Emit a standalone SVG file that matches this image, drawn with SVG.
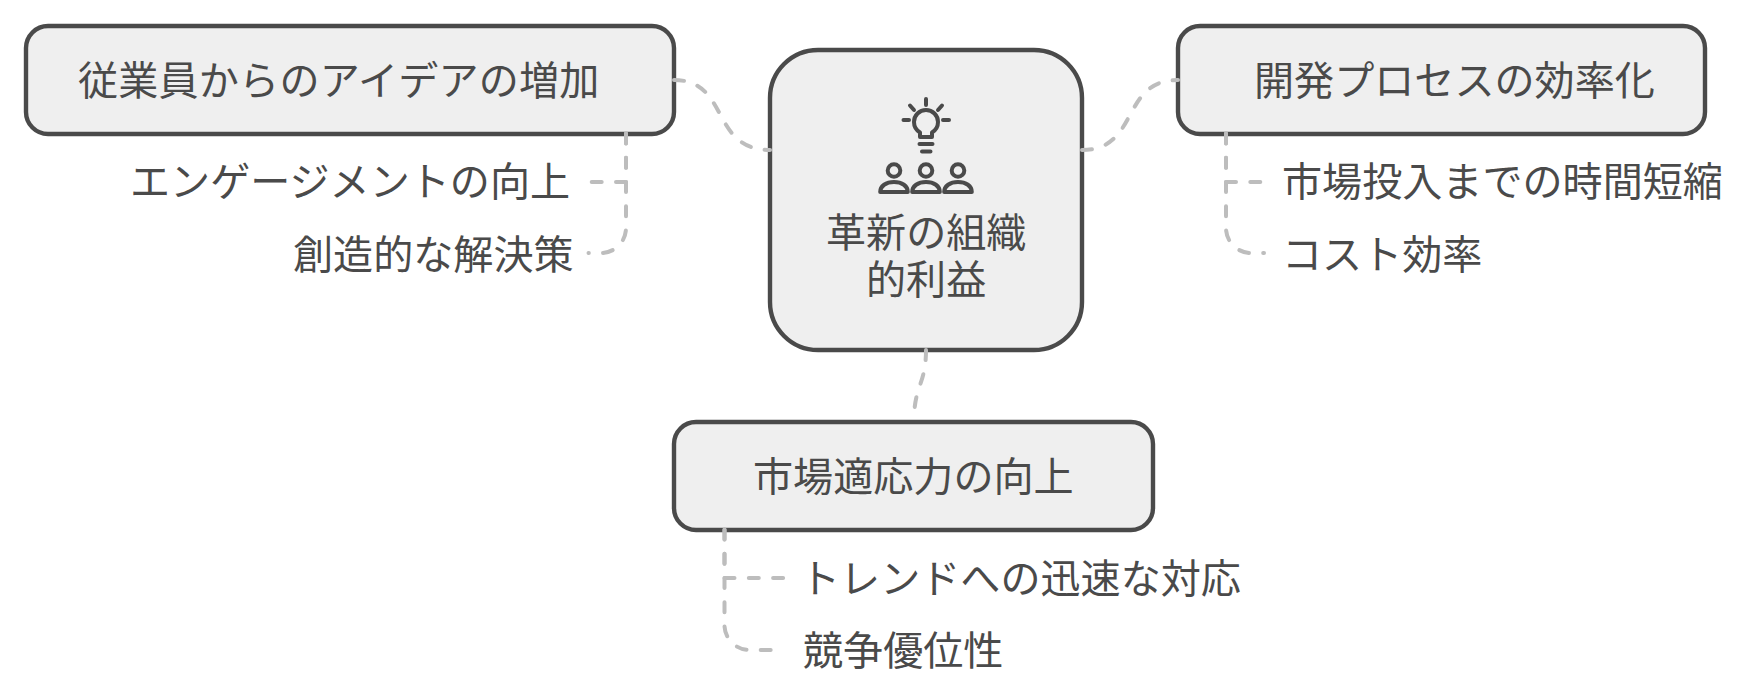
<svg xmlns="http://www.w3.org/2000/svg" width="1754" height="699" viewBox="0 0 1754 699">
<style>
.box{fill:#efefef;stroke:#4a4a4a;stroke-width:4.4}
.t{font-family:"Noto Sans CJK JP","Noto Sans CJK SC",sans-serif;font-size:40.1px;fill:#4a4a4a}
.c{fill:none;stroke:#bdbdbd;stroke-width:4;stroke-dasharray:10 14.3;stroke-linecap:round}
.i{fill:none;stroke:#4a4a4a;stroke-width:4;stroke-linecap:round;stroke-linejoin:round}
</style>
<rect width="1754" height="699" fill="#fff"/>
<g id="node-center">
<rect class="box" x="770" y="50" width="312" height="300" rx="48"/>
<g class="i">
<path d="M926,99V105M903.500,120H909M943,120H949M910,105.500L914,110M942,105.500L938,110"/>
<path d="M920,137V132.500C916,130 914,126 914,122A12,12 0 0 1 938,122C938,126 936,130 932,132.500V137Z"/>
<path d="M919.500,144H932.500M922,151.500H930.500"/>
<circle cx="894" cy="170.500" r="6.300"/><circle cx="926" cy="170.500" r="6.300"/><circle cx="958" cy="170.500" r="6.300"/>
<path d="M880.200,192C880.200,186 886,182 894,182C902,182 907.800,186 907.800,192ZM912.200,192C912.200,186 918,182 926,182C934,182 939.800,186 939.800,192ZM944.200,192C944.200,186 950,182 958,182C966,182 971.800,186 971.800,192Z"/>
</g>
<text class="t" x="826" y="246.500">革新の組織</text>
<text class="t" x="866" y="293.500">的利益</text>
</g>
<g id="node-ideas">
<rect class="box" x="26" y="26" width="648" height="108" rx="22"/>
<text class="t" x="78" y="95" letter-spacing="0.2">従業員からのアイデアの増加</text>
</g>
<g id="node-engagement"><text class="t" x="130" y="196">エンゲージメントの向上</text></g>
<g id="node-creative"><text class="t" x="293" y="268.500">創造的な解決策</text></g>
<g id="node-process">
<rect class="box" x="1178" y="26" width="527" height="108" rx="22"/>
<text class="t" x="1254" y="95">開発プロセスの効率化</text>
</g>
<g id="node-ttm"><text class="t" x="1282" y="196">市場投入までの時間短縮</text></g>
<g id="node-cost"><text class="t" x="1282" y="268.500">コスト効率</text></g>
<g id="node-market">
<rect class="box" x="674" y="422" width="479" height="108" rx="22"/>
<text class="t" x="753" y="491">市場適応力の向上</text>
</g>
<g id="node-trend"><text class="t" x="800" y="593">トレンドへの迅速な対応</text></g>
<g id="node-advantage"><text class="t" x="803" y="665">競争優位性</text></g>
<g id="connectors">
<path class="c" d="M674,80C730,80 710,150 770,150"/>
<path class="c" d="M1082,150C1140,150 1120,80 1178,80"/>
<path class="c" d="M926,350C926,385 914,385 914,421"/>
<path class="c" d="M626,133.400V182H589"/>
<path class="c" d="M626,133.400V228A25,25 0 0 1 601,253H588.500"/>
<path class="c" d="M1226,133.400V182H1262"/>
<path class="c" d="M1226,133.400V228A25,25 0 0 0 1251,253H1264"/>
<path class="c" d="M724.500,529.400V578H784"/>
<path class="c" d="M724.500,529.400V625A25,25 0 0 0 749.500,650H771"/>
</g>
</svg>
